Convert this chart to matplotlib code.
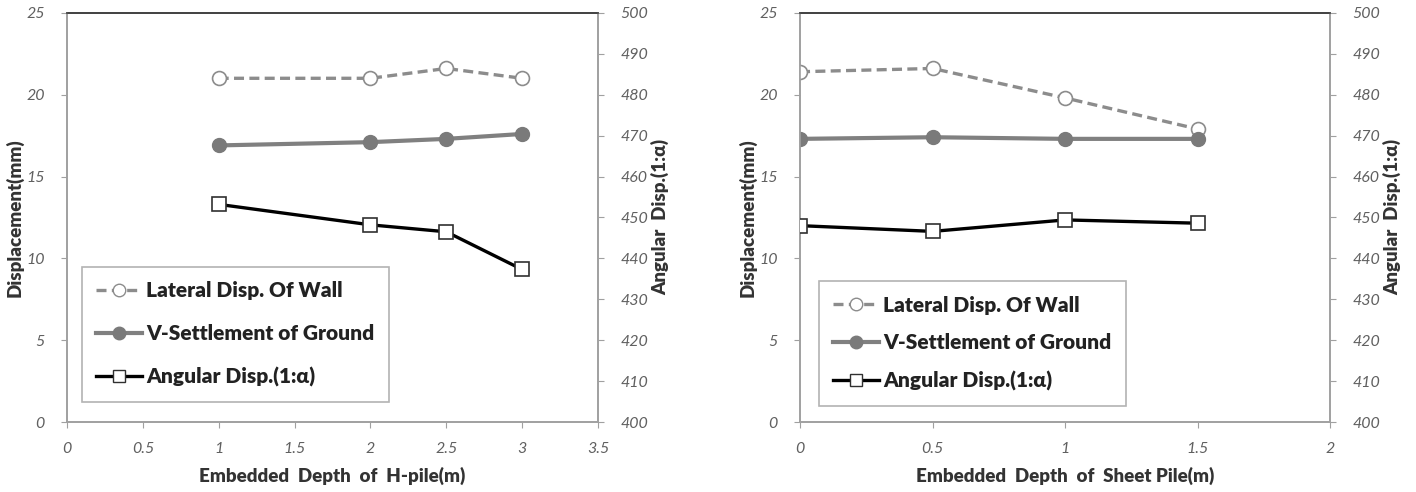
import matplotlib
matplotlib.use('Agg')
import matplotlib.pyplot as plt
from matplotlib.lines import Line2D

plt.rcParams['font.family'] = ['Lato', 'DejaVu Sans']

# left chart: H-pile
hpile_depth = [1, 2, 2.5, 3]
hpile_lateral = [21.0, 21.0, 21.6, 21.0]
hpile_settle = [16.9, 17.1, 17.3, 17.6]
hpile_angular = [453.2, 448.2, 446.5, 437.3]

# right chart: sheet pile
sheet_depth = [0, 0.5, 1, 1.5]
sheet_lateral = [21.4, 21.6, 19.8, 17.9]
sheet_settle = [17.3, 17.4, 17.3, 17.3]
sheet_angular = [448.0, 446.6, 449.4, 448.6]

legend_names = ['Lateral Disp. Of Wall', 'V-Settlement of Ground', 'Angular Disp.(1:\u03b1)']

fig = plt.figure(figsize=(14.16, 4.92), dpi=100)

spine_c = '#a0a0a0'
tick_c = '#606060'


def draw(rect, x, lat, settle, ang, xmax, xstep, xlabel, leg_anchor, lspace):
    ax = fig.add_axes(rect)
    ax2 = ax.twinx()
    ax.plot(x, lat, color='#8c8c8c', lw=2.4, ls=(0, (3, 1.6)), marker='o', ms=10,
            mfc='white', mec='#8c8c8c', mew=1.2, zorder=3)
    ax.plot(x, settle, color='#808080', lw=3, marker='o', ms=10, mfc='#7a7a7a',
            mec='#7a7a7a', zorder=3)
    ax2.plot(x, ang, color='black', lw=2.4, marker='s', ms=10, mfc='white',
             mec='#303030', mew=1.2, zorder=3)
    ax.set_xlim(0, xmax)
    ax.set_ylim(0, 25)
    ax2.set_ylim(400, 500)
    xt = []
    v = 0.0
    while v <= xmax + 1e-9:
        xt.append(v)
        v += xstep
    ax.set_xticks(xt)
    ax.set_xticklabels(['%g' % t for t in xt])
    ax.set_yticks(range(0, 26, 5))
    ax2.set_yticks(range(400, 501, 10))
    for a in (ax, ax2):
        for s in a.spines.values():
            s.set_color(spine_c)
            s.set_linewidth(1.2)
        a.spines['top'].set_color('#404040')
        a.tick_params(colors=spine_c, labelcolor=tick_c, labelsize=11.5, length=4)
        for lab in a.get_xticklabels() + a.get_yticklabels():
            lab.set_fontstyle('italic')
    ax.tick_params(axis='x', pad=10)
    ax.tick_params(axis='y', pad=12)
    ax2.tick_params(axis='y', pad=12)
    ax.set_xlabel(xlabel, fontsize=13.5, fontweight='heavy', color='#333333', labelpad=8)
    ax.set_ylabel('Displacement(mm)', fontsize=13.5, fontweight='heavy', color='#333333', labelpad=2)
    ax2.set_ylabel('Angular  Disp.(1:\u03b1)', fontsize=13.5, fontweight='heavy', color='#333333', labelpad=2)
    handles = [
        Line2D([], [], color='#8c8c8c', lw=2.4, ls=(0, (3, 1.6)), marker='o', ms=9,
               mfc='white', mec='#8c8c8c'),
        Line2D([], [], color='#808080', lw=3, marker='o', ms=9, mfc='#7a7a7a', mec='#7a7a7a'),
        Line2D([], [], color='black', lw=2.4, marker='s', ms=9, mfc='white', mec='#303030'),
    ]
    leg = ax2.legend(handles, legend_names, loc='lower left', bbox_to_anchor=leg_anchor,
                     fontsize=15, frameon=True, fancybox=False, handlelength=2.2,
                     labelspacing=lspace, borderpad=0.7, handletextpad=0.2, borderaxespad=0,
                     prop={'weight': 'heavy', 'size': 15})
    leg.get_frame().set_edgecolor('#a0a0a0')
    leg.get_frame().set_linewidth(1.2)
    for t in leg.get_texts():
        t.set_color('#222222')
    return ax


draw([0.0473, 0.142, 0.375, 0.832], hpile_depth, hpile_lateral, hpile_settle, hpile_angular,
     3.5, 0.5, 'Embedded  Depth  of  H-pile(m)', (0.028, 0.05), 1.15)
draw([0.565, 0.142, 0.3745, 0.832], sheet_depth, sheet_lateral, sheet_settle, sheet_angular,
     2.0, 0.5, 'Embedded  Depth  of  Sheet Pile(m)', (0.035, 0.04), 0.9)

fig.savefig('out.png', dpi=100)
